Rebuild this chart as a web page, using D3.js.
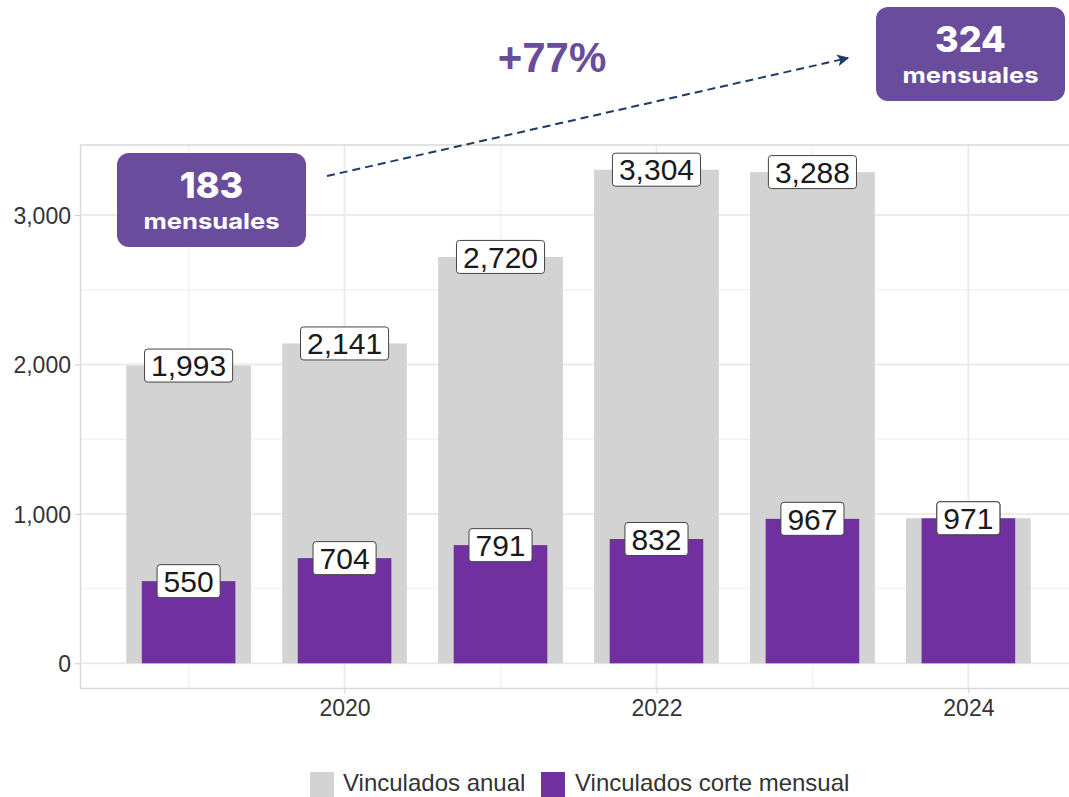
<!DOCTYPE html>
<html><head><meta charset="utf-8">
<script src="https://cdn.jsdelivr.net/npm/d3@7"></script>
<style>body{margin:0;background:#fff}svg{display:block}</style>
</head><body>
<script>
const years = [2019, 2020, 2021, 2022, 2023, 2024];
const anual = [1993, 2141, 2720, 3304, 3288, 971];
const mensual = [550, 704, 791, 832, 967, 971];
const xTicks = [2020, 2022, 2024];
const xMinor = [2019, 2021, 2023];
const yTicks = [0, 1000, 2000, 3000];
const yMinor = [500, 1500, 2500];
const seriesNames = ["Vinculados anual", "Vinculados corte mensual"];
const boxes = [{big: "183", small: "mensuales"}, {big: "324", small: "mensuales"}];
const growth = "+77%";

const W = 1069, H = 797;
const GRAY = "#d3d3d3", PURPLE = "#7030a0", BOXC = "#6a4c9c";
const svg = d3.select("body").append("svg").attr("width", W).attr("height", H);

const x = d3.scaleLinear().domain([2018.31, 2024.69]).range([81, 1076]);
const y = d3.scaleLinear().domain([-165.2, 3469.2]).range([688, 145]);
const fmt = d3.format(",");

// grid
const g = svg.append("g");
g.selectAll(".ym").data(yMinor).join("line").attr("x1", 81).attr("x2", W).attr("y1", d => y(d)).attr("y2", d => y(d)).attr("stroke", "#f3f3f3").attr("stroke-width", 1.5);
g.selectAll(".xm").data(xMinor).join("line").attr("x1", d => x(d)).attr("x2", d => x(d)).attr("y1", 145).attr("y2", 688).attr("stroke", "#f3f3f3").attr("stroke-width", 1.5);
g.selectAll(".yM").data(yTicks).join("line").attr("x1", 81).attr("x2", W).attr("y1", d => y(d)).attr("y2", d => y(d)).attr("stroke", "#ebebeb").attr("stroke-width", 2);
g.selectAll(".xM").data(xTicks).join("line").attr("x1", d => x(d)).attr("x2", d => x(d)).attr("y1", 145).attr("y2", 688).attr("stroke", "#ebebeb").attr("stroke-width", 2);

// bars
svg.append("g").selectAll("rect").data(years).join("rect")
  .attr("x", (d) => x(d - 0.4)).attr("width", x(0.8) - x(0))
  .attr("y", (d, i) => y(anual[i])).attr("height", (d, i) => y(0) - y(anual[i]))
  .attr("fill", GRAY);
svg.append("g").selectAll("rect").data(years).join("rect")
  .attr("x", (d) => x(d - 0.3)).attr("width", x(0.6) - x(0))
  .attr("y", (d, i) => y(mensual[i])).attr("height", (d, i) => y(0) - y(mensual[i]))
  .attr("fill", PURPLE);

// panel border
svg.append("path").attr("d", `M${W},145H80.5V688.5H${W}`).attr("fill", "none").attr("stroke", "#d9d9d9").attr("stroke-width", 1.5);

// axes
const ya = svg.append("g").attr("transform", "translate(80,0)")
  .call(d3.axisLeft(y).tickValues(yTicks).tickFormat(fmt).tickSize(5).tickPadding(4));
const xa = svg.append("g").attr("transform", "translate(0,688.5)")
  .call(d3.axisBottom(x).tickValues(xTicks).tickFormat(d3.format("d")).tickSize(5).tickPadding(5));
[ya, xa].forEach(a => {
  a.select(".domain").remove();
  a.selectAll("line").attr("stroke", "#cccccc");
  a.selectAll("text").attr("fill", "#333").style("font-family", "Liberation Sans, Arial, sans-serif").style("font-size", "23px");
});
ya.selectAll("text").attr("dy", "0.36em");
xa.selectAll("text").attr("dy", "0.75em");

// labels
function label(cx, cy, txt) {
  const lg = svg.append("g");
  const t = lg.append("text").attr("x", cx).attr("y", cy).attr("text-anchor", "middle").attr("dy", "0.36em")
    .style("font-family", "Liberation Sans, Arial, sans-serif").style("font-size", "30px").attr("fill", "#1a1a1a").text(txt);
  const bb = t.node().getBBox();
  lg.insert("rect", "text").attr("x", cx - bb.width / 2 - 6.5).attr("y", cy - 16.5).attr("width", bb.width + 13).attr("height", 33)
    .attr("rx", 3).attr("fill", "#fff").attr("stroke", "#444").attr("stroke-width", 1);
}
years.forEach((yr, i) => label(x(yr), y(anual[i]), fmt(anual[i])));
years.forEach((yr, i) => label(x(yr), y(mensual[i]), fmt(mensual[i])));

// legend
const leg = svg.append("g");
const legItems = [{c: GRAY, kx: 310, tx: 343}, {c: PURPLE, kx: 541, tx: 575}];
legItems.forEach((it, i) => {
  leg.append("rect").attr("x", it.kx).attr("y", 772).attr("width", 24).attr("height", 26).attr("fill", it.c);
  leg.append("text").attr("x", it.tx).attr("y", 791).style("font-family", "Liberation Sans, Arial, sans-serif")
    .style("font-size", "24px").attr("fill", "#333").text(seriesNames[i]);
});

// annotation boxes
const boxPos = [{x: 117, y: 153, w: 189, h: 94}, {x: 876, y: 7, w: 189, h: 94}];
boxes.forEach((b, i) => {
  const p = boxPos[i];
  svg.append("rect").attr("x", p.x).attr("y", p.y).attr("width", p.w).attr("height", p.h).attr("rx", 12).attr("fill", BOXC);
  svg.append("text").attr("x", p.x + p.w / 2).attr("y", p.y + 45).attr("text-anchor", "middle")
    .style("font-family", "Inter, Roboto, sans-serif").style("font-weight", 800).style("font-size", "36px").attr("fill", "#fff").text(b.big);
  svg.append("text").attr("x", p.x + p.w / 2).attr("y", p.y + 76).attr("text-anchor", "middle")
    .style("font-family", "Inter, Roboto, sans-serif").style("font-weight", 700).style("font-size", "22px").attr("fill", "#fff")
    .attr("textLength", 136).attr("lengthAdjust", "spacingAndGlyphs").text(b.small);
});

// arrow
svg.append("defs").append("marker").attr("id", "ah").attr("viewBox", "0 0 10 10").attr("refX", 9).attr("refY", 5)
  .attr("markerWidth", 6).attr("markerHeight", 6).attr("orient", "auto")
  .append("path").attr("d", "M0,0L10,5L0,10L2.5,5Z").attr("fill", "#1f3a68");
svg.append("line").attr("x1", 327).attr("y1", 176).attr("x2", 848).attr("y2", 58)
  .attr("stroke", "#1f3a68").attr("stroke-width", 2).attr("stroke-dasharray", "8,5").attr("marker-end", "url(#ah)");

svg.append("text").attr("x", 552).attr("y", 72).attr("text-anchor", "middle")
  .style("font-family", "Liberation Sans, Arial, sans-serif").style("font-weight", 700).style("font-size", "42px")
  .attr("fill", BOXC).text(growth);
</script>
</body></html>
